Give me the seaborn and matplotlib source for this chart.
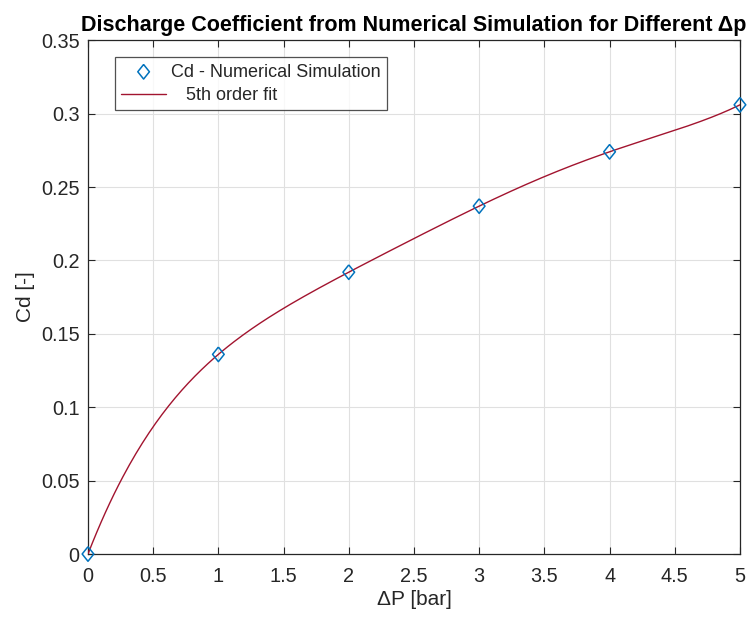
import numpy as np
import pandas as pd
import matplotlib
matplotlib.use("Agg")
import matplotlib.pyplot as plt
import seaborn as sns

# Data
dp_bar = [0, 1, 2, 3, 4, 5]
cd_sim = [0.0, 0.136, 0.192, 0.237, 0.274, 0.306]
x_ticks = [0, 0.5, 1, 1.5, 2, 2.5, 3, 3.5, 4, 4.5, 5]
y_ticks = [0, 0.05, 0.1, 0.15, 0.2, 0.25, 0.3, 0.35]
x_ticklabels = ["0", "0.5", "1", "1.5", "2", "2.5", "3", "3.5", "4", "4.5", "5"]
y_ticklabels = ["0", "0.05", "0.1", "0.15", "0.2", "0.25", "0.3", "0.35"]

sns.set_theme(style="whitegrid")
plt.rcParams['font.family'] = ['Liberation Sans', 'DejaVu Sans']

# 5th order polynomial fit of the simulation points (as in the original chart)
coef = np.polyfit(dp_bar, cd_sim, 5)
xf = np.linspace(0, 5, 300)
fit_df = pd.DataFrame({"x": xf, "y": np.polyval(coef, xf)})
pts_df = pd.DataFrame({"x": dp_bar, "y": cd_sim})

diamond = [(0, 1), (0.8, 0), (0, -1), (-0.8, 0), (0, 1)]

fig = plt.figure(figsize=(7.52, 6.19), dpi=100)
ax = fig.add_axes([0.117, 0.105, 0.867, 0.830])

sns.lineplot(data=fit_df, x="x", y="y", ax=ax, color="#A2142F", linewidth=1.0,
             label="   5th order fit", zorder=3)
sns.scatterplot(data=pts_df, x="x", y="y", ax=ax, marker=diamond, s=110,
                facecolor="none", edgecolor="#0072BD", linewidth=1.1,
                label="Cd - Numerical Simulation", zorder=4, clip_on=False)

ax.set_xlim(0, 5)
ax.set_ylim(0, 0.35)
ax.set_xticks(x_ticks)
ax.set_xticklabels(x_ticklabels)
ax.set_yticks(y_ticks)
ax.set_yticklabels(y_ticklabels)
ax.grid(True, color="#e0e0e0", linewidth=0.8)
ax.set_facecolor("white")
for s in ax.spines.values():
    s.set_color("#262626")
    s.set_linewidth(0.9)
    s.set_visible(True)
ax.tick_params(axis="both", direction="in", length=5, width=0.8, color="#262626",
               labelsize=14.3, labelcolor="#262626", top=True, right=True,
               bottom=True, left=True)
ax.tick_params(axis="x", pad=9)
ax.tick_params(axis="y", pad=6)
ax.set_xlabel("ΔP [bar]", fontsize=15, color="#262626", labelpad=3)
ax.set_ylabel("Cd [-]", fontsize=15, color="#262626", labelpad=4)
ax.set_title("Discharge Coefficient from Numerical Simulation for Different Δp",
             fontsize=15.5, fontweight="bold", color="black", pad=7)

handles, labels = ax.get_legend_handles_labels()
order = [1, 0]
leg = ax.legend([handles[i] for i in order], [labels[i] for i in order],
                loc="upper left", bbox_to_anchor=(0.041, 0.967), fontsize=13,
                frameon=True, fancybox=False, edgecolor="#262626",
                borderpad=0.35, borderaxespad=0, handlelength=2.5,
                handletextpad=0.25, labelspacing=0.35)
leg.get_frame().set_linewidth(0.9)

fig.savefig("out.png", dpi=100)
